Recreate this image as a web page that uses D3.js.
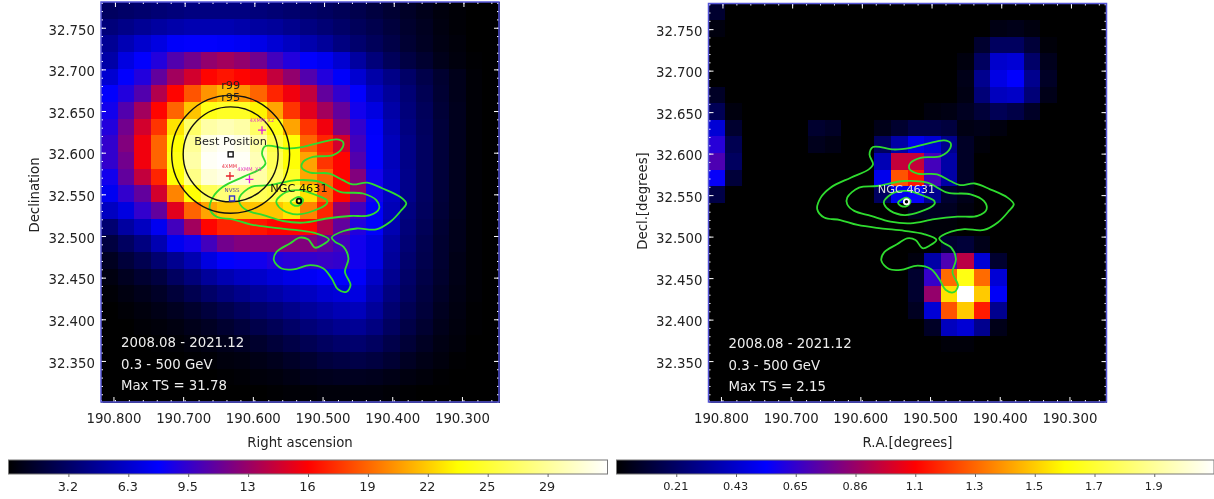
<!DOCTYPE html>
<html>
<head>
<meta charset="utf-8">
<script src="https://cdn.jsdelivr.net/npm/d3@7/dist/d3.min.js"></script>
<style>
html,body{margin:0;padding:0;background:#fff;overflow:hidden}
svg{display:block;filter:blur(0.45px)}
text{font-family:"DejaVu Sans",sans-serif}
</style>
</head>
<body>
<svg id="chart" width="1214" height="499"></svg>
<script>
// TS map, left panel (rows top to bottom, columns left to right)
const tsLeft = [
[3,3.2,3.4,3.6,3.8,4,4,4,4,3.8,3.6,3.4,3.2,3,2.7,2.4,2,1.6,1.2,0.8,0.4,0.2,0,0],
[3.8,4.2,4.6,5,5.3,5.5,5.5,5.5,5.3,5,4.8,4.4,4,3.6,3.2,2.8,2.4,1.9,1.4,1,0.5,0.2,0,0],
[4.6,5.6,6.4,7,7.8,8,8,7.8,7.6,7.2,6.6,6,5.4,4.8,4,3.4,2.8,2.2,1.6,1.1,0.6,0.3,0,0],
[5.2,7,8,9,10.5,11.5,12.5,13,12.5,11.5,10,9,8,7.5,6.5,5,3.8,2.8,2.1,1.5,0.8,0.4,0.1,0],
[6.5,8,9,11,13,14.5,16,16.5,16,15.5,14,12.5,10.5,9,7.8,6.5,5.2,4.2,3.2,2.3,1.5,0.8,0.2,0],
[8,9,10.5,13.5,16,18.5,20.5,21.5,20.5,19,17,15.5,14,11,9.5,8,6,4.8,3.6,2.6,1.6,0.8,0.2,0],
[8.5,10.5,13,16,19,22,24.5,25,25,23.5,21,17.5,15,13,11,8.5,7,5.2,3.8,2.8,1.7,0.9,0.2,0],
[9,11.5,14.5,17.5,23,27,29,29.5,29,27,24.5,21,17.5,15.5,12,9.5,7.8,5.5,4,2.9,1.8,0.9,0.2,0],
[9.5,12,15.5,19,24,28.5,31,31.5,31,29,26,24,19,17,14.5,10,8,5.8,4.2,3,1.8,0.9,0.2,0],
[9.5,11.5,15.5,19,24.5,29,31.5,31.78,31.5,29.5,26.5,24,21,17.5,16,10.5,8,5.8,4.2,3,1.8,0.9,0.2,0],
[8.5,11,14,17,24,28,30.5,31,30.5,29,27,25,21,19,16,12,8.5,6,4.3,3,1.8,0.9,0.2,0],
[7.5,9.5,11,14.5,20,24,26.5,27.5,27.5,26.5,26,26.5,23,19,16,12.5,8.5,6,4.3,3,1.8,0.9,0.2,0],
[6,7,9.5,11,15,19,21,22,22,22,22,23,20,17,12.5,10,7.8,5.7,4,2.9,1.7,0.9,0.2,0],
[3.5,5,6,7.5,10,13,16,17,17,16.5,16,16,16,13.5,11,9,7.8,5.5,3.8,2.7,1.6,0.8,0.2,0],
[2,3,4,5.5,7.5,8.5,10,11.5,12,12,12,12,12,11,10,8.5,7,5,3.6,2.5,1.5,0.8,0.2,0],
[1,1.8,2.5,3.5,4.5,5.5,7,8,8.2,8.5,9,9.2,9.5,9.7,9.5,8.5,7,4.8,3.4,2.4,1.5,0.7,0.2,0],
[0.5,1,1.5,2,3,3.8,4.8,5.5,6,6.3,6.8,7.2,7.6,8,8,7.8,6.2,4.5,3.2,2.2,1.4,0.7,0.2,0],
[0.2,0.5,0.8,1.2,1.8,2.5,3.2,3.8,4.3,4.8,5.2,5.7,6,6.5,6.8,7,5.5,4,3,2,1.2,0.6,0.2,0],
[0,0.2,0.4,0.7,1,1.4,1.9,2.4,2.9,3.4,3.8,4.3,4.8,5.2,5.6,5.8,4.8,3.5,2.6,1.8,1,0.5,0.1,0],
[0,0,0.2,0.3,0.5,0.8,1.1,1.5,1.9,2.3,2.7,3.2,3.7,4.1,4.5,4.6,4,3,2.2,1.5,0.8,0.4,0.1,0],
[0,0,0,0.1,0.2,0.4,0.6,0.8,1.1,1.4,1.8,2.2,2.6,3,3.3,3.4,3,2.3,1.7,1.1,0.6,0.3,0,0],
[0,0,0,0,0,0.1,0.2,0.4,0.5,0.7,0.9,1.2,1.5,1.9,2.1,2.2,2,1.6,1.1,0.7,0.4,0.1,0,0],
[0,0,0,0,0,0,0,0.1,0.2,0.3,0.4,0.6,0.8,0.9,1,1,0.9,0.7,0.5,0.3,0.1,0,0,0],
[0,0,0,0,0,0,0,0,0,0,0.1,0.2,0.2,0.3,0.3,0.3,0.3,0.2,0.1,0,0,0,0,0]
];
// TS map, right panel
const tsRight = [
[0.1,0,0,0,0,0,0,0,0,0,0,0,0,0,0,0,0,0,0,0,0,0,0,0],
[0.03,0,0,0,0,0,0,0,0,0,0,0,0,0,0,0,0,0.04,0.05,0.03,0,0,0,0],
[0,0,0,0,0,0,0,0,0,0,0,0,0,0,0,0,0.1,0.2,0.2,0.12,0.02,0,0,0],
[0,0,0,0,0,0,0,0,0,0,0,0,0,0,0,0.03,0.2,0.43,0.45,0.22,0.06,0,0,0],
[0,0,0,0,0,0,0,0,0,0,0,0,0,0,0,0.05,0.3,0.48,0.54,0.3,0.08,0,0,0],
[0.08,0,0,0,0,0,0,0,0,0,0,0,0,0,0,0.04,0.25,0.4,0.42,0.25,0.05,0,0,0],
[0.18,0.03,0,0,0,0,0,0,0,0,0,0,0,0.03,0.04,0.07,0.12,0.18,0.15,0.08,0,0,0,0],
[0.45,0.1,0,0,0,0,0.1,0.08,0,0,0.05,0.1,0.15,0.15,0.13,0.04,0.05,0.03,0,0,0,0,0,0],
[0.62,0.17,0,0,0,0,0.06,0.04,0,0,0.2,0.35,0.5,0.45,0.3,0.08,0.02,0,0,0,0,0,0,0],
[0.7,0.2,0,0,0,0,0,0,0,0,0.38,0.95,0.95,0.68,0.35,0.08,0,0,0,0,0,0,0,0],
[0.55,0.12,0,0,0,0,0,0,0,0,0.5,1.25,1.12,0.68,0.35,0.08,0,0,0,0,0,0,0,0],
[0.15,0,0,0,0,0,0,0,0,0,0.2,0.5,0.55,0.3,0.1,0.05,0,0,0,0,0,0,0,0],
[0,0,0,0,0,0,0,0,0,0,0,0,0.06,0.07,0.07,0.03,0,0,0,0,0,0,0,0],
[0,0,0,0,0,0,0,0,0,0,0,0,0,0.02,0.02,0,0,0,0,0,0,0,0,0],
[0,0,0,0,0,0,0,0,0,0,0,0,0,0,0.1,0.12,0.05,0,0,0,0,0,0,0],
[0,0,0,0,0,0,0,0,0,0,0,0,0.03,0.35,0.7,0.93,0.45,0.1,0,0,0,0,0,0],
[0,0,0,0,0,0,0,0,0,0,0,0,0.1,0.65,1.3,1.65,1.3,0.45,0,0,0,0,0,0],
[0,0,0,0,0,0,0,0,0,0,0,0,0.1,0.85,1.55,2.15,1.5,0.52,0,0,0,0,0,0],
[0,0,0,0,0,0,0,0,0,0,0,0,0.07,0.45,1.25,1.5,1.13,0.3,0,0,0,0,0,0],
[0,0,0,0,0,0,0,0,0,0,0,0,0,0.08,0.4,0.45,0.3,0.05,0,0,0,0,0,0],
[0,0,0,0,0,0,0,0,0,0,0,0,0,0,0.02,0.02,0,0,0,0,0,0,0,0],
[0,0,0,0,0,0,0,0,0,0,0,0,0,0,0,0,0,0,0,0,0,0,0,0],
[0,0,0,0,0,0,0,0,0,0,0,0,0,0,0,0,0,0,0,0,0,0,0,0],
[0,0,0,0,0,0,0,0,0,0,0,0,0,0,0,0,0,0,0,0,0,0,0,0]
];
const tsMaxLeft = 31.78, tsMaxRight = 2.15;

// Contours [RA, Dec]
const contourOuter = [[190.584,32.608],[190.554,32.605],[190.530,32.607],[190.506,32.612],[190.482,32.616],[190.473,32.613],[190.473,32.607],[190.487,32.597],[190.516,32.595],[190.530,32.589],[190.532,32.582],[190.520,32.576],[190.492,32.575],[190.473,32.567],[190.459,32.562],[190.438,32.564],[190.416,32.557],[190.391,32.547],[190.382,32.539],[190.389,32.531],[190.405,32.517],[190.425,32.508],[190.453,32.509],[190.472,32.506],[190.489,32.498],[190.484,32.493],[190.472,32.487],[190.465,32.473],[190.470,32.457],[190.462,32.441],[190.468,32.433],[190.480,32.436],[190.489,32.449],[190.501,32.461],[190.520,32.465],[190.544,32.460],[190.561,32.461],[190.572,32.471],[190.568,32.481],[190.549,32.491],[190.535,32.498],[190.523,32.496],[190.513,32.486],[190.503,32.489],[190.493,32.496],[190.511,32.503],[190.539,32.507],[190.573,32.510],[190.606,32.514],[190.631,32.520],[190.654,32.523],[190.664,32.533],[190.659,32.547],[190.645,32.559],[190.616,32.571],[190.590,32.581],[190.584,32.587],[190.589,32.599]];
const contourMiddle = [[190.621,32.547],[190.604,32.559],[190.578,32.561],[190.539,32.567],[190.506,32.565],[190.477,32.553],[190.444,32.551],[190.425,32.543],[190.421,32.533],[190.434,32.525],[190.463,32.524],[190.496,32.521],[190.530,32.516],[190.559,32.518],[190.587,32.525],[190.611,32.531],[190.621,32.539]];
const contourInner = [[190.568,32.543],[190.554,32.553],[190.535,32.555],[190.511,32.549],[190.496,32.543],[190.496,32.539],[190.516,32.530],[190.539,32.526],[190.559,32.531],[190.568,32.539]];
const contourCore = [[190.546,32.543],[190.536,32.547],[190.530,32.543],[190.535,32.537],[190.544,32.537],[190.548,32.541]];
const contours = [contourOuter, contourMiddle, contourInner, contourCore];

// Positions
const ngc4631 = [190.536, 32.542];
const bestPos = [190.634, 32.598];
const r95 = 0.0681, r99 = 0.0846;
const xmm = [190.635, 32.572];
const xmmX1 = [190.607, 32.568];
const xmmX2 = [190.589, 32.627];
const nvss = [190.632, 32.545];

// Axes
const raDomain = [190.82, 190.249];
const decDomain = [32.7809, 32.3007];
const raMajor = [190.8,190.7,190.6,190.5,190.4,190.3];
const raMinor = d3.range(190.82,190.24,-0.02);
const decMajor = [32.75,32.7,32.65,32.6,32.55,32.5,32.45,32.4,32.35];
const decMinor = d3.range(32.78,32.30,-0.01);

// Labels
const infoDates = "2008.08 - 2021.12", infoEnergy = "0.3 - 500 GeV";
const cbLabelsLeft = ["3.2","6.3","9.5","13","16","19","22","25","29"];
const cbLabelsRight = ["0.21","0.43","0.65","0.86","1.1","1.3","1.5","1.7","1.9"];
const cbFractions = [0.1,0.2,0.3,0.4,0.5,0.6,0.7,0.8,0.9];

const cmapStops = [0,0.25,0.5,0.75,1];
const cmap = d3.scaleLinear().domain(cmapStops).range(["#000000","#0000ff","#ff0000","#ffff00","#ffffff"]);

const svg = d3.select("#chart");
const defs = svg.append("defs");
const grad = defs.append("linearGradient").attr("id","cb");
cmapStops.forEach(s => grad.append("stop").attr("offset",s).attr("stop-color",cmap(s)));

const textCol = "#222";
const FRAME = "#5555d8";

function panel(o){
  const g = svg.append("g");
  const x = d3.scaleLinear().domain(raDomain).range([o.left,o.right]);
  const y = d3.scaleLinear().domain(decDomain).range([o.top,o.bottom]);
  const cols = d3.scaleBand().domain(d3.range(24)).range([o.left,o.right]);
  const rows = d3.scaleBand().domain(d3.range(24)).range([o.top,o.bottom]);
  const cells = o.data.flatMap((row,r)=>row.map((v,c)=>({r,c,v})));
  g.append("g").attr("shape-rendering","crispEdges").selectAll("rect").data(cells).join("rect")
    .attr("x",d=>cols(d.c)).attr("y",d=>rows(d.r))
    .attr("width",cols.bandwidth()+0.5).attr("height",rows.bandwidth()+0.5)
    .attr("fill",d=>cmap(d.v/o.max));

  // overlays
  const line = d3.line().x(d=>x(d[0])).y(d=>y(d[1])).curve(d3.curveCatmullRomClosed.alpha(0.5));
  g.append("g").selectAll("path").data(contours).join("path")
    .attr("d",line).attr("fill","none").attr("stroke","#2fdc2f").attr("stroke-width",1.8);
  o.overlay(g,x,y);

  // ticks
  const style = a => a.call(s=>s.select(".domain").remove())
    .call(s=>s.selectAll("line").attr("stroke","#fff").attr("stroke-width",1))
    .call(s=>s.selectAll("text").attr("fill",textCol).style("font-size","13.3px").style("font-family","DejaVu Sans"));
  const noLabel = ()=>"";
  const at = (gen,tx,ty)=>style(g.append("g").attr("transform",`translate(${tx},${ty})`).call(gen));
  at(d3.axisBottom(x).tickValues(raMajor).tickSize(-5).tickPadding(12).tickFormat(d3.format(".3f")),-1.5,o.bottom);
  at(d3.axisBottom(x).tickValues(raMinor).tickSize(-2).tickFormat(noLabel),0,o.bottom);
  at(d3.axisTop(x).tickValues(raMajor).tickSize(-5).tickFormat(noLabel),0,o.top);
  at(d3.axisTop(x).tickValues(raMinor).tickSize(-2).tickFormat(noLabel),0,o.top);
  at(d3.axisLeft(y).tickValues(decMajor).tickSize(-5).tickPadding(6).tickFormat(d3.format(".3f")),o.left,0)
    .selectAll("text").attr("dy","0.47em");
  at(d3.axisLeft(y).tickValues(decMinor).tickSize(-2).tickFormat(noLabel),o.left,0);
  at(d3.axisRight(y).tickValues(decMajor).tickSize(-5).tickFormat(noLabel),o.right,0);
  at(d3.axisRight(y).tickValues(decMinor).tickSize(-2).tickFormat(noLabel),o.right,0);

  g.append("rect").attr("x",o.left).attr("y",o.top).attr("width",o.right-o.left).attr("height",o.bottom-o.top)
    .attr("fill","none").attr("stroke",FRAME).attr("stroke-width",1.5);

  // info block
  const info = [infoDates, infoEnergy, "Max TS = "+o.max];
  g.append("g").selectAll("text").data(info).join("text")
    .attr("x",o.left+20).attr("y",(d,i)=>o.infoY[i]).attr("dy","0.35em")
    .attr("fill","#eee").style("font-size","13.3px").text(d=>d);

  // axis titles
  g.append("text").attr("x",(o.left+o.right)/2).attr("y",442.5).attr("dy","0.35em").attr("text-anchor","middle")
    .attr("fill",textCol).style("font-size","13.3px").text(o.xTitle);
  g.append("text").attr("transform",`translate(${o.yTitleX},${o.yTitleY}) rotate(-90)`).attr("dy","0.35em").attr("text-anchor","middle")
    .attr("fill",textCol).style("font-size","13.3px").text(o.yTitle);

  // colorbar
  const cb = d3.scaleLinear().domain([0,1]).range([o.cbL,o.cbR]);
  g.append("rect").attr("x",o.cbL).attr("y",460).attr("width",o.cbR-o.cbL).attr("height",14)
    .attr("fill","url(#cb)").attr("stroke","#777").attr("stroke-width",1);
  const cbAxis = g.append("g").attr("transform","translate(0,474)")
    .call(d3.axisBottom(cb).tickValues(cbFractions).tickSize(3).tickPadding(5).tickFormat((d,i)=>o.cbLabels[i]));
  cbAxis.select(".domain").remove();
  cbAxis.selectAll("line").attr("stroke","#666");
  cbAxis.selectAll("text").attr("fill",textCol).attr("dx","-1").style("font-size",o.cbFont).style("font-family","DejaVu Sans");
}

function plus(g,x,y,p,color){
  const s=4;
  g.append("path").attr("d",`M${x(p[0])-s},${y(p[1])}H${x(p[0])+s}M${x(p[0])},${y(p[1])-s}V${y(p[1])+s}`)
    .attr("stroke",color).attr("stroke-width",1.3).attr("fill","none");
}
function square(g,x,y,p,color){
  g.append("rect").attr("x",x(p[0])-2.5).attr("y",y(p[1])-2.5).attr("width",5).attr("height",5)
    .attr("fill","none").attr("stroke",color).attr("stroke-width",1.4);
}
function label(g,x,y,t,color,size,dy){
  g.append("text").attr("x",x).attr("y",y).attr("dy",dy||"0.35em").attr("text-anchor","middle")
    .attr("fill",color).style("font-size",size).text(t);
}

panel({
  left:101,right:499,top:2,bottom:402,data:tsLeft,max:tsMaxLeft,
  infoY:[342,364,385],xTitle:"Right ascension",yTitle:"Declination",yTitleX:34,yTitleY:195,
  cbL:8.5,cbR:607.5,cbLabels:cbLabelsLeft,cbFont:"12.8px",
  overlay(g,x,y){
    [r95,r99].forEach(r=>g.append("circle").attr("cx",x(bestPos[0])).attr("cy",y(bestPos[1]))
      .attr("r",x(raDomain[0]-r)-x(raDomain[0])).attr("fill","none").attr("stroke","#111").attr("stroke-width",1.4));
    square(g,x,y,bestPos,"#111");
    square(g,x,y,nvss,"#3333cc");
    plus(g,x,y,xmm,"#e8222a");
    plus(g,x,y,xmmX1,"#e020e0");
    plus(g,x,y,xmmX2,"#e020e0");
    g.append("circle").attr("cx",x(ngc4631[0])).attr("cy",y(ngc4631[1])).attr("r",2.3).attr("fill","none").attr("stroke","#000").attr("stroke-width",1.8);
    label(g,x(bestPos[0]),85.5,"r99","#222","11.3px");
    label(g,x(bestPos[0]),97,"r95","#222","11.3px");
    label(g,x(bestPos[0]),141.5,"Best Position","#222","11.3px");
    label(g,x(ngc4631[0]),188,"NGC 4631","#111","11.3px");
    label(g,x(xmm[0])-0.5,166,"4XMM","#e83040","5px");
    label(g,x(xmmX1[0]),169,"4XMM_X1","#e040c0","5px");
    label(g,x(xmmX2[0]),120.5,"4XMM_X2","#e040c0","5px");
    label(g,x(nvss[0]),190,"NVSS","#5050a0","5.5px");
  }
});
panel({
  left:708.5,right:1106.5,top:3.5,bottom:402,data:tsRight,max:tsMaxRight,
  infoY:[343,365,386],xTitle:"R.A.[degrees]",yTitle:"Decl.[degrees]",yTitleX:642,yTitleY:201,
  cbL:616.5,cbR:1214,cbLabels:cbLabelsRight,cbFont:"11.3px",
  overlay(g,x,y){
    g.append("circle").attr("cx",x(ngc4631[0])).attr("cy",y(ngc4631[1])).attr("r",2.6).attr("fill","#000").attr("stroke","#fff").attr("stroke-width",1.8);
    label(g,x(ngc4631[0]),189.5,"NGC 4631","#ddd","11.3px");
  }
});
</script>
</body>
</html>
